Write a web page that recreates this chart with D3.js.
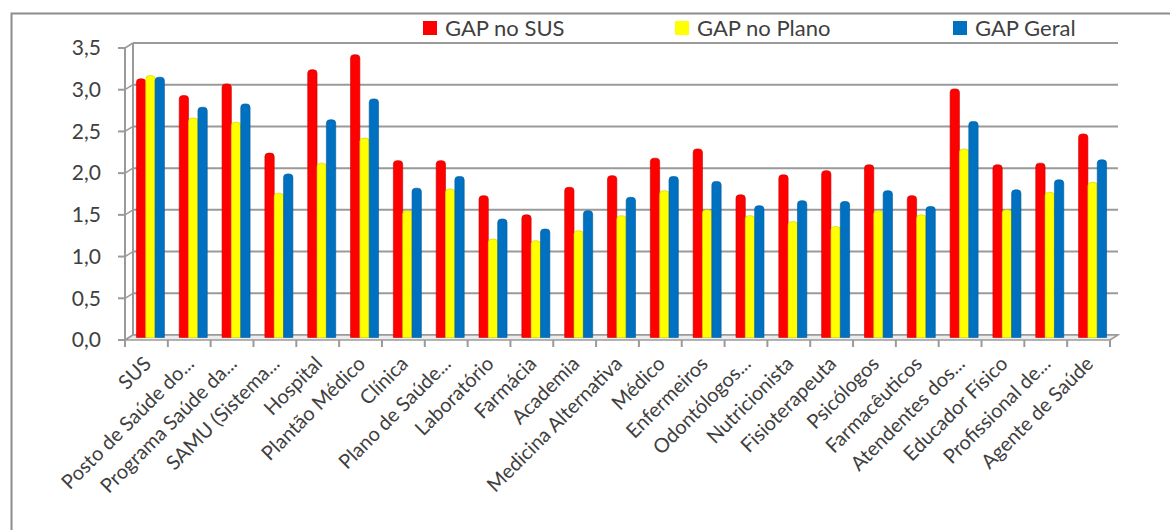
<!DOCTYPE html>
<html>
<head>
<meta charset="utf-8">
<script src="https://cdn.jsdelivr.net/npm/d3@7/dist/d3.min.js"></script>
<style>
  html, body { margin: 0; padding: 0; background: #fff; }
  svg { display: block; }
  text { font-family: Lato, "Open Sans", sans-serif; fill: #404040; }
</style>
</head>
<body>
<svg id="chart" width="1170" height="530"></svg>
<script>
// Categories (x axis)
const categories = [
  "SUS", "Posto de Saúde do...", "Programa Saúde da...", "SAMU (Sistema...",
  "Hospital", "Plantão Médico", "Clínica", "Plano de Saúde...", "Laboratório",
  "Farmácia", "Academia", "Medicina Alternativa", "Médico", "Enfermeiros",
  "Odontólogos...", "Nutricionista", "Fisioterapeuta", "Psicólogos",
  "Farmacêuticos", "Atendentes dos...", "Educador Físico", "Profissional de...",
  "Agente de Saúde"
];

// Series
const seriesNames = ["GAP no SUS", "GAP no Plano", "GAP Geral"];
const gapSUS   = [3.10, 2.90, 3.04, 2.21, 3.21, 3.39, 2.12, 2.12, 1.70, 1.47, 1.80, 1.94, 2.15, 2.26, 1.71, 1.95, 2.00, 2.07, 1.70, 2.98, 2.07, 2.09, 2.44];
const gapPlano = [3.14, 2.63, 2.58, 1.73, 2.09, 2.39, 1.52, 1.78, 1.18, 1.16, 1.28, 1.46, 1.76, 1.53, 1.46, 1.39, 1.33, 1.52, 1.47, 2.26, 1.53, 1.74, 1.86];
const gapGeral = [3.12, 2.76, 2.80, 1.96, 2.61, 2.86, 1.79, 1.93, 1.42, 1.30, 1.52, 1.68, 1.93, 1.87, 1.58, 1.64, 1.63, 1.76, 1.57, 2.59, 1.77, 1.89, 2.13];
const seriesColors = ["#FF0000", "#FFFF00", "#0070C0"];

// Y axis ticks
const yTicks = [0, 0.5, 1.0, 1.5, 2.0, 2.5, 3.0, 3.5];
const yTickLabels = ["0,0", "0,5", "1,0", "1,5", "2,0", "2,5", "3,0", "3,5"];

const svg = d3.select("#chart");

// Outer chart frame
svg.append("rect")
  .attr("x", 11.5).attr("y", 13.5)
  .attr("width", 1170).attr("height", 540)
  .attr("fill", "none").attr("stroke", "#8c8c8c").attr("stroke-width", 2);

// Plot geometry: front axis plane plus a shallow depth offset for the 3D look
const plotLeft = 125, plotRight = 1110, plotBottom = 340, plotTop = 48;
const depthX = 8, depthY = -5;

const x = d3.scaleBand().domain(categories).range([plotLeft, plotRight]).paddingInner(0).paddingOuter(0);
const y = d3.scaleLinear().domain([0, 3.5]).range([plotBottom, plotTop]);

const gridColor = "#9a9a9a";

// Back wall gridlines
const grid = svg.append("g");
grid.selectAll("line.h")
  .data(yTicks)
  .join("line")
  .attr("x1", plotLeft + depthX).attr("x2", plotRight + depthX)
  .attr("y1", d => y(d) + depthY).attr("y2", d => y(d) + depthY)
  .attr("stroke", gridColor).attr("stroke-width", 2);

// Back wall left edge
grid.append("line")
  .attr("x1", plotLeft + depthX).attr("x2", plotLeft + depthX)
  .attr("y1", y(3.5) + depthY).attr("y2", y(0) + depthY)
  .attr("stroke", gridColor).attr("stroke-width", 2);

// Side wall diagonals from each tick to the back wall
grid.selectAll("line.d")
  .data(yTicks)
  .join("line")
  .attr("x1", plotLeft).attr("x2", plotLeft + depthX)
  .attr("y1", d => y(d)).attr("y2", d => y(d) + depthY)
  .attr("stroke", gridColor).attr("stroke-width", 1.5);

// Floor
svg.append("path")
  .attr("d", `M${plotLeft},${plotBottom} L${plotRight},${plotBottom} L${plotRight + depthX},${plotBottom + depthY} L${plotLeft + depthX},${plotBottom + depthY} Z`)
  .attr("fill", "#ececec").attr("stroke", gridColor).attr("stroke-width", 1.5);

// Front y axis line and ticks
svg.append("line")
  .attr("x1", plotLeft).attr("x2", plotLeft)
  .attr("y1", y(3.5)).attr("y2", y(0))
  .attr("stroke", gridColor).attr("stroke-width", 2);
svg.selectAll("line.ytick")
  .data(yTicks)
  .join("line")
  .attr("x1", plotLeft - 7).attr("x2", plotLeft)
  .attr("y1", d => y(d)).attr("y2", d => y(d))
  .attr("stroke", gridColor).attr("stroke-width", 2);

svg.selectAll("text.ylab")
  .data(yTicks)
  .join("text")
  .attr("x", 101).attr("y", d => y(d))
  .attr("dy", "0.35em")
  .attr("text-anchor", "end")
  .attr("font-size", 21)
  .text((d, i) => yTickLabels[i]);

// Front x axis ticks at category boundaries
const boundaries = categories.map(c => x(c)).concat([plotRight]);
svg.selectAll("line.xtick")
  .data(boundaries)
  .join("line")
  .attr("x1", d => d).attr("x2", d => d)
  .attr("y1", plotBottom).attr("y2", plotBottom + 7)
  .attr("stroke", gridColor).attr("stroke-width", 2);

// Bars, placed at half depth
const seriesData = [gapSUS, gapPlano, gapGeral];
const groupPad = 7.4;
const xs = d3.scaleBand().domain(d3.range(3)).range([0, x.bandwidth() - 2 * groupPad]).paddingInner(0);
const barDX = depthX / 2, barDY = depthY / 2;

function barPath(x0, w, yTop, yBase) {
  const r = Math.min(3.5, w / 2);
  return `M${x0},${yBase} L${x0},${yTop + r} Q${x0},${yTop} ${x0 + r},${yTop} ` +
         `L${x0 + w - r},${yTop} Q${x0 + w},${yTop} ${x0 + w},${yTop + r} L${x0 + w},${yBase} Z`;
}

const bars = svg.append("g").attr("transform", `translate(${barDX},${barDY})`);
categories.forEach((cat, ci) => {
  seriesData.forEach((vals, si) => {
    const bx = x(cat) + groupPad + xs(si);
    const w = xs.bandwidth();
    bars.append("path")
      .attr("d", barPath(bx, w, y(vals[ci]), y(0)))
      .attr("fill", seriesColors[si])
      .attr("stroke", d3.color(seriesColors[si]).darker(0.6))
      .attr("stroke-width", 0.6);
  });
});

// Category labels, rotated
svg.selectAll("text.xlab")
  .data(categories)
  .join("text")
  .attr("transform", d => `translate(${x(d) + x.bandwidth() / 2 + 6},${plotBottom + 25}) rotate(-45)`)
  .attr("text-anchor", "end")
  .attr("font-size", 20)
  .text(d => d);

// Legend
const legendX = [423, 675, 953];
const legend = svg.append("g");
seriesNames.forEach((name, i) => {
  legend.append("rect")
    .attr("x", legendX[i]).attr("y", 21)
    .attr("width", 14).attr("height", 14)
    .attr("fill", seriesColors[i]);
  legend.append("text")
    .attr("x", legendX[i] + 22).attr("y", 28)
    .attr("dy", "0.35em")
    .attr("font-size", 22)
    .text(name);
});
</script>
</body>
</html>
